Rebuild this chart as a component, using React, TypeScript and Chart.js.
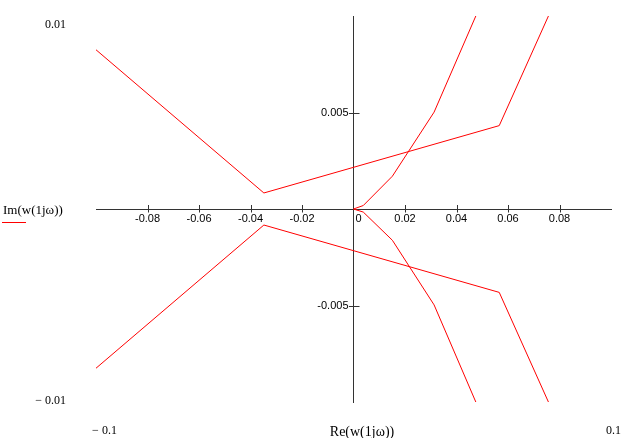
import React, { useEffect, useRef } from "react";
import { Chart, registerables } from "chart.js";

Chart.register(...registerables);

// Upper outer branch (Re, Im)
const outerUpperRe = [0.0757, 0.0566, -0.0348, -0.1];
const outerUpperIm = [0.01, 0.00432, 0.00083, 0.00825];
// Lower outer branch (Re, Im)
const outerLowerRe = [0.0757, 0.0566, -0.0348, -0.1];
const outerLowerIm = [-0.01, -0.00432, -0.00083, -0.00825];
// Inner loop through the origin (Re, Im)
const innerRe = [0.0475, 0.0313, 0.0151, 0.0038, 0, 0.0038, 0.0151, 0.0313, 0.0475];
const innerIm = [0.01, 0.00502, 0.0017, 0.00018, 0, -0.00016, -0.00162, -0.00497, -0.01];

const xTickValues = [-0.08, -0.06, -0.04, -0.02, 0, 0.02, 0.04, 0.06, 0.08];
const yTickValues = [-0.005, 0.005];
const xMin = -0.1;
const xMax = 0.1;
const yMin = -0.01;
const yMax = 0.01;

const xTitle = "Re(w(1jω))";
const yTitle = "Im(w(1jω))";

const toPoints = (xs: number[], ys: number[]) => xs.map((x, i) => ({ x, y: ys[i] }));

const fmt = (v: number) => String(Number(v.toFixed(4)));

export default function App() {
  const ref = useRef<HTMLCanvasElement | null>(null);

  useEffect(() => {
    if (!ref.current) return;
    const red = "#ff0000";
    const axisColor = "#333333";
    const serif = "'Liberation Serif', 'Times New Roman', serif";
    const sans = "'Liberation Sans', Arial, sans-serif";

    const axisDecor = {
      id: "axisDecor",
      afterDraw(chart: any) {
        const ctx = chart.ctx;
        const xs = chart.scales.x;
        const ys = chart.scales.y;
        const a = chart.chartArea;
        const x0 = Math.round(xs.getPixelForValue(0)) + 0.5;
        const y0 = Math.round(ys.getPixelForValue(0)) + 0.5;
        ctx.save();
        // tick marks
        ctx.strokeStyle = axisColor;
        ctx.lineWidth = 1;
        ctx.beginPath();
        xs.ticks.forEach((t: any) => {
          if (t.value === 0) return;
          const px = Math.round(xs.getPixelForValue(t.value)) + 0.5;
          ctx.moveTo(px, y0 - 4.5);
          ctx.lineTo(px, y0 + 3);
        });
        ys.ticks.forEach((t: any) => {
          const py = Math.round(ys.getPixelForValue(t.value)) + 0.5;
          ctx.moveTo(x0 - 5.5, py);
          ctx.lineTo(x0 + 5, py);
        });
        ctx.stroke();
        // tick labels
        ctx.fillStyle = "#000";
        ctx.font = `11px ${sans}`;
        ctx.textBaseline = "middle";
        ctx.textAlign = "center";
        xs.ticks.forEach((t: any) => {
          const px = xs.getPixelForValue(t.value) + (t.value === 0 ? 5 : 0);
          ctx.fillText(fmt(t.value), px, y0 + 9.5);
        });
        ctx.textAlign = "right";
        ys.ticks.forEach((t: any) => {
          const py = ys.getPixelForValue(t.value);
          ctx.fillText(fmt(t.value), x0 - 6, py + 0.5);
        });
        // axis limits
        ctx.font = `12px ${serif}`;
        ctx.textAlign = "right";
        ctx.fillText(fmt(yMax), a.left - 30, ys.getPixelForValue(yMax) + 8.5);
        ctx.fillText("− " + fmt(Math.abs(yMin)), a.left - 30, ys.getPixelForValue(yMin) - 1.5);
        ctx.textAlign = "center";
        ctx.fillText("− " + fmt(Math.abs(xMin)), xs.getPixelForValue(xMin) + 8.5, a.bottom + 28.5);
        ctx.fillText(fmt(xMax), xs.getPixelForValue(xMax) + 2.5, a.bottom + 28.5);
        // titles
        ctx.font = `14px ${serif}`;
        ctx.fillText(xTitle, xs.getPixelForValue(0) + 8.5, a.bottom + 30.5);
        ctx.font = `13px ${serif}`;
        ctx.textAlign = "left";
        ctx.fillText(yTitle, 3, y0 + 1);
        // legend swatch under y title
        ctx.fillStyle = red;
        ctx.fillRect(2, Math.round(y0) + 12, 24, 1);
        ctx.restore();
      },
    };

    const lineDs = (data: { x: number; y: number }[]) => ({
      data,
      showLine: true,
      borderColor: red,
      borderWidth: 1,
      pointRadius: 0,
      fill: false,
      tension: 0,
    });

    const chart = new Chart(ref.current, {
      type: "scatter",
      data: {
        datasets: [
          lineDs(toPoints(outerUpperRe, outerUpperIm)),
          lineDs(toPoints(outerLowerRe, outerLowerIm)),
          lineDs(toPoints(innerRe, innerIm)),
        ],
      },
      options: {
        animation: false,
        responsive: false,
        maintainAspectRatio: false,
        layout: { padding: { left: 96, right: 12, top: 16, bottom: 36 } },
        plugins: {
          legend: { display: false },
          tooltip: { enabled: false },
        },
        scales: {
          x: {
            type: "linear",
            min: xMin,
            max: xMax,
            position: { y: 0 } as any,
            afterBuildTicks: (axis: any) => {
              axis.ticks = xTickValues.map((v) => ({ value: v }));
            },
            grid: { display: false },
            border: { display: true, color: axisColor, width: 1 },
            ticks: { display: false },
          },
          y: {
            type: "linear",
            min: yMin,
            max: yMax,
            position: { x: 0 } as any,
            afterBuildTicks: (axis: any) => {
              axis.ticks = yTickValues.map((v) => ({ value: v }));
            },
            grid: { display: false },
            border: { display: true, color: axisColor, width: 1 },
            ticks: { display: false },
          },
        },
      },
      plugins: [axisDecor],
    });
    return () => chart.destroy();
  }, []);

  return (
    <div style={{ position: "absolute", left: 0, top: 0, width: 623, height: 438, background: "#fff" }}>
      <canvas ref={ref} width={623} height={438} style={{ width: 623, height: 438 }} />
    </div>
  );
}
